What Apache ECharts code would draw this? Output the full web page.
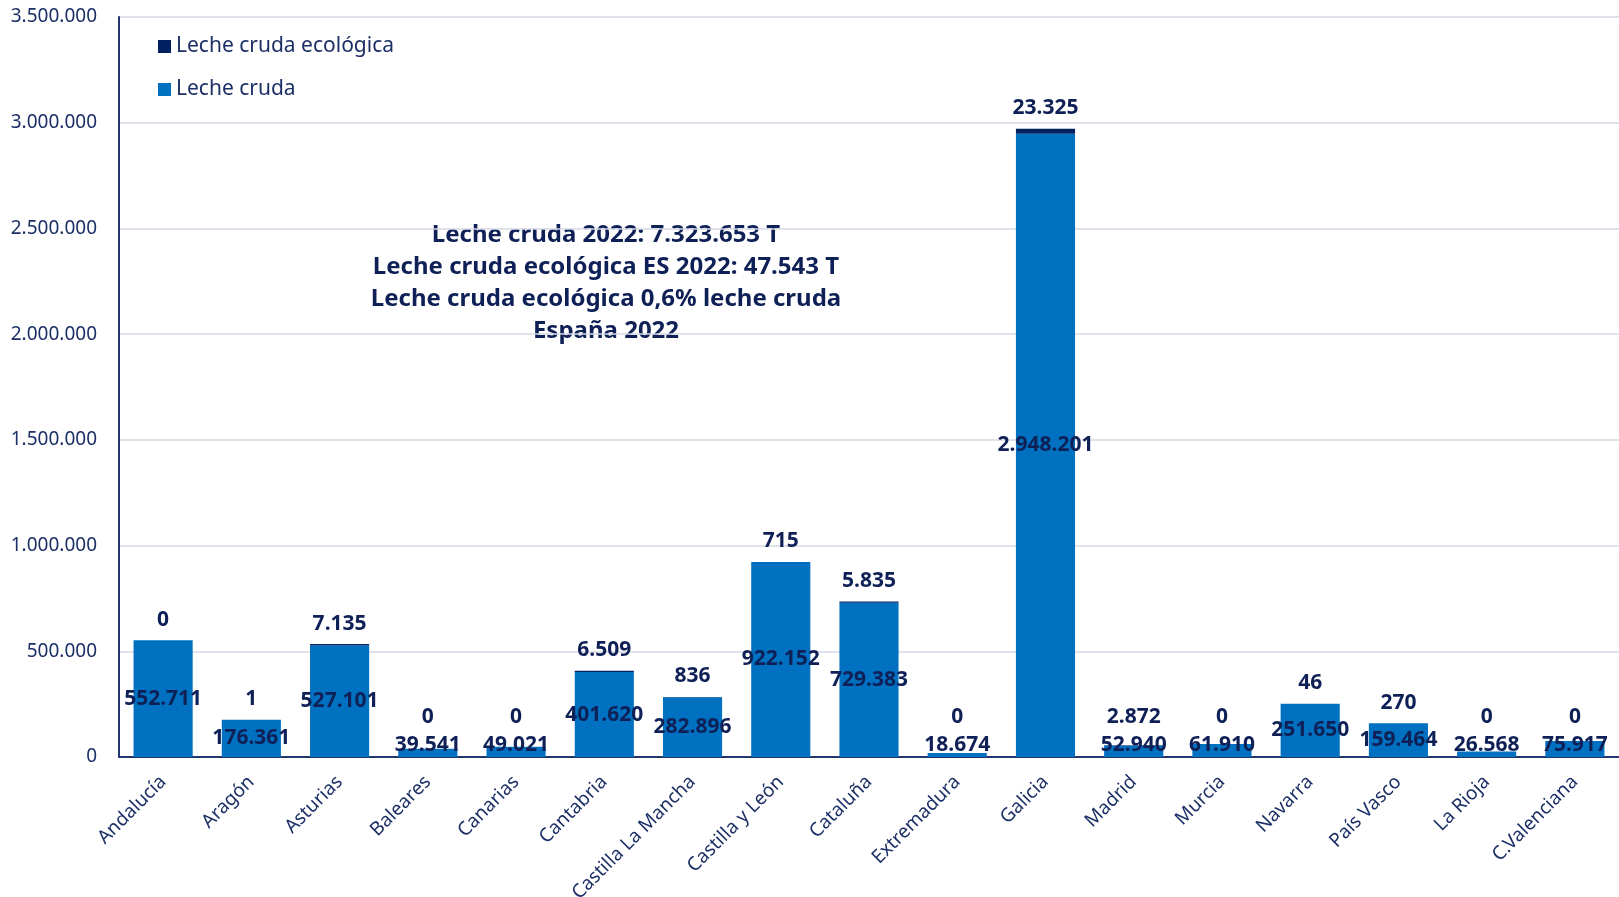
<!DOCTYPE html>
<html>
<head>
<meta charset="utf-8">
<title>Leche cruda 2022</title>
<script src="https://cdn.jsdelivr.net/npm/echarts@6/dist/echarts.min.js"></script>
<style>
	html, body { margin: 0; padding: 0; background: #fff; }
	#chart { width: 1619px; height: 897px; }
</style>
</head>
<body>
<div id="chart"></div>
<script>
	// comunidades
	var categorias = ['Andalucía', 'Aragón', 'Asturias', 'Baleares', 'Canarias', 'Cantabria', 'Castilla La Mancha', 'Castilla y León', 'Cataluña', 'Extremadura', 'Galicia', 'Madrid', 'Murcia', 'Navarra', 'País Vasco', 'La Rioja', 'C.Valenciana'];
	// toneladas
	var lecheCruda = [552711, 176361, 527101, 39541, 49021, 401620, 282896, 922152, 729383, 18674, 2948201, 52940, 61910, 251650, 159464, 26568, 75917];
	var lecheEco = [0, 1, 7135, 0, 0, 6509, 836, 715, 5835, 0, 23325, 2872, 0, 46, 270, 0, 0];
	var textoResumen = ['Leche cruda 2022: 7.323.653 T', 'Leche cruda ecológica ES 2022: 47.543 T', 'Leche cruda ecológica 0,6% leche cruda', 'España 2022'];

	var fuente = '"Noto Sans", "Open Sans", sans-serif';
	var azulOscuro = '#0f2057';

	var miles = function(v) {
		return String(v).replace(/\B(?=(\d{3})+(?!\d))/g, '.');
	};

	var myChart = echarts.init(document.getElementById('chart'));

	// y del eje en pixeles
	var baseY = function() {
		return myChart.convertToPixel({ gridIndex: 0 }, [0, 0])[1];
	};

	var opcion = {
		animation: false,
		textStyle: { fontFamily: fuente },
		grid: {
			left: 119,
			right: 0,
			top: 17,
			bottom: 140,
			containLabel: false,
			outerBoundsMode: 'none'
		},
		legend: {
			data: ['Leche cruda ecológica', 'Leche cruda'],
			orient: 'vertical',
			left: 158,
			top: 36,
			padding: 0,
			itemGap: 22,
			itemWidth: 13,
			itemHeight: 13,
			icon: 'rect',
			textStyle: {
				fontFamily: fuente,
				fontSize: 21,
				color: '#1c2f66'
			}
		},
		xAxis: {
			type: 'category',
			data: categorias,
			axisLine: {
				lineStyle: { color: '#23376e', width: 2 }
			},
			axisTick: { show: false },
			axisLabel: {
				interval: 0,
				rotate: 45,
				margin: 22,
				fontFamily: fuente,
				fontSize: 19,
				color: '#1c2f66'
			}
		},
		yAxis: {
			type: 'value',
			min: 0,
			max: 3500000,
			interval: 500000,
			axisLine: {
				show: true,
				lineStyle: { color: '#23376e', width: 2 }
			},
			axisTick: { show: false },
			splitLine: {
				lineStyle: { color: '#d5d8e5', width: 1.5 }
			},
			axisLabel: {
				margin: 22,
				fontFamily: fuente,
				fontSize: 19,
				color: '#1c2f66',
				formatter: miles
			}
		},
		graphic: [{
			type: 'text',
			x: 606,
			y: 219,
			style: {
				text: textoResumen.join('\n'),
				align: 'center',
				verticalAlign: 'top',
				fontFamily: fuente,
				fontSize: 24,
				fontWeight: 'bold',
				lineHeight: 32,
				fill: azulOscuro
			}
		}],
		series: [{
			name: 'Leche cruda',
			type: 'bar',
			stack: 'total',
			barCategoryGap: '33%',
			data: lecheCruda,
			itemStyle: { color: '#0070c0' },
			label: {
				show: true,
				position: 'inside',
				fontFamily: fuente,
				fontSize: 21,
				fontWeight: 'bold',
				color: azulOscuro,
				formatter: function(p) { return miles(p.value); }
			},
			// que la etiqueta no baje del eje
			labelLayout: function(p) {
				var r = p.labelRect;
				var base = p.rect.y + p.rect.height;
				var centro = r.y + r.height / 2;
				if (centro > base - 12) {
					return { x: r.x + r.width / 2, y: base - 12, align: 'center', verticalAlign: 'middle' };
				}
				return {};
			}
		}, {
			name: 'Leche cruda ecológica',
			type: 'bar',
			stack: 'total',
			data: lecheEco,
			itemStyle: { color: '#002060' },
			label: {
				show: true,
				position: 'top',
				distance: 10,
				fontFamily: fuente,
				fontSize: 21,
				fontWeight: 'bold',
				color: azulOscuro,
				formatter: function(p) { return miles(p.value); }
			},
			// subir las etiquetas de barras pequeñas
			labelLayout: function(p) {
				var r = p.labelRect;
				var centro = r.y + r.height / 2;
				var tope = baseY() - 40;
				if (centro > tope) {
					return { x: r.x + r.width / 2, y: tope, align: 'center', verticalAlign: 'middle' };
				}
				return {};
			}
		}]
	};

	myChart.setOption(opcion);
</script>
</body>
</html>
